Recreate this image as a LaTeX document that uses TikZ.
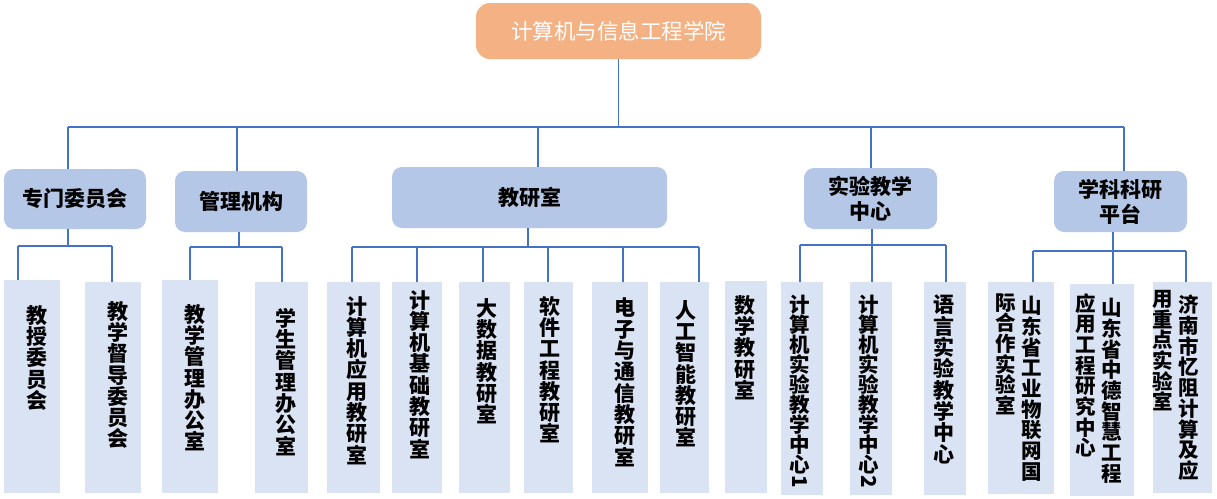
\documentclass[tikz,border=0pt]{standalone}
\usepackage{fontspec}
\usepackage{graphicx}
\newfontfamily\cjk{Noto Sans CJK SC}
\definecolor{orgfill}{HTML}{F4B183}
\definecolor{midfill}{HTML}{B4C7E7}
\definecolor{leaffill}{HTML}{DAE3F3}
\definecolor{linec}{HTML}{4472C4}
\newcommand\mkbox[7][]{\node[#1, minimum width={(#5-#3)*1pt}, minimum height={(#6-#4)*1pt}] (#2) at ({(#3+#5)/2},{(#4+#6)/2}) {#7};}
\newcommand\rotdigit[1]{\raisebox{0.45em}{\rotatebox[origin=c]{-90}{#1}}}
\tikzset{
  rootbox/.style={fill=orgfill, rounded corners=14pt, inner sep=0pt, outer sep=0pt, text=white, font=\cjk\fontsize{21.5}{24}\selectfont},
  midbox/.style={fill=midfill, rounded corners=10pt, inner sep=0pt, outer sep=0pt, align=center, font=\cjk\bfseries\fontsize{21}{25}\selectfont},
  leafbox/.style={fill=leaffill, inner sep=0pt, outer sep=0pt},
  vt/.style={font=\cjk\bfseries\fontsize{21}{21.3}\selectfont, align=center, inner sep=0pt, anchor=north},
  vtn/.style={vt, font=\cjk\bfseries\fontsize{20.5}{20.7}\selectfont},
  vtc/.style={vt, font=\cjk\bfseries\fontsize{20.5}{20}\selectfont},
  conn/.style={draw=linec, line width=1.3pt}
}
\begin{document}
\begin{tikzpicture}[x=1pt,y=-1pt]
\useasboundingbox (0,0) rectangle (1217,498);
% root and second level
\mkbox[rootbox]{root}{476}{3}{761}{59}{计算机与信息工程学院}
\mkbox[midbox]{b1}{4}{169}{146}{229}{专门委员会}
\mkbox[midbox]{b2}{175}{171}{307}{232}{管理机构}
\mkbox[midbox]{b3}{392}{167}{667}{228}{教研室}
\mkbox[midbox]{b4}{804}{168}{937}{229}{实验教学\\中心}
\mkbox[midbox]{b5}{1054}{171}{1187}{232}{学科科研\\平台}
% leaves
\mkbox[leafbox]{k1}{4}{280}{60}{493}{}
\mkbox[leafbox]{k2}{85}{282}{141}{493}{}
\mkbox[leafbox]{k3}{162}{280}{218}{493}{}
\mkbox[leafbox]{k4}{255}{282}{308}{493}{}
\mkbox[leafbox]{k5}{327}{282}{380}{493}{}
\mkbox[leafbox]{k6}{392}{282}{442}{493}{}
\mkbox[leafbox]{k7}{459}{282}{510}{493}{}
\mkbox[leafbox]{k8}{524}{282}{573}{493}{}
\mkbox[leafbox]{k9}{592}{282}{648}{493}{}
\mkbox[leafbox]{k10}{660}{282}{709}{493}{}
\mkbox[leafbox]{k11}{725}{281}{767}{493}{}
\mkbox[leafbox]{k12}{781}{282}{823}{495}{}
\mkbox[leafbox]{k13}{850}{282}{892}{495}{}
\mkbox[leafbox]{k14}{924}{282}{966}{495}{}
\mkbox[leafbox]{k15}{988}{282}{1054}{494}{}
\mkbox[leafbox]{k16}{1070}{284}{1134}{496}{}
\mkbox[leafbox]{k17}{1153}{282}{1212}{493}{}
% leaf texts
\node[vt] (t1) at (37,305) {教\\授\\委\\员\\会};
\node[vt] (t2) at (118,301) {教\\学\\督\\导\\委\\员\\会};
\node[vt] (t3) at (195,304) {教\\学\\管\\理\\办\\公\\室};
\node[vt] (t4) at (286,308) {学\\生\\管\\理\\办\\公\\室};
\node[vt] (t5) at (357,296) {计\\算\\机\\应\\用\\教\\研\\室};
\node[vt] (t6) at (420,290) {计\\算\\机\\基\\础\\教\\研\\室};
\node[vt] (t7) at (487,298) {大\\数\\据\\教\\研\\室};
\node[vt] (t8) at (550,296) {软\\件\\工\\程\\教\\研\\室};
\node[vt] (t9) at (625,298) {电\\子\\与\\通\\信\\教\\研\\室};
\node[vt] (t10) at (686,300) {人\\工\\智\\能\\教\\研\\室};
\node[vt] (t11) at (745,295) {数\\学\\教\\研\\室};
\node[vtc] (t12) at (800,295) {计\\算\\机\\实\\验\\教\\学\\中\\心\\\rotdigit{1}};
\node[vtc] (t13) at (869,295) {计\\算\\机\\实\\验\\教\\学\\中\\心\\\rotdigit{2}};
\node[vt] (t14) at (944,295) {语\\言\\实\\验\\教\\学\\中\\心};
\node[vtn] (t15a) at (1032,296) {山\\东\\省\\工\\业\\物\\联\\网\\国};
\node[vtn] (t15b) at (1006,293) {际\\合\\作\\实\\验\\室};
\node[vtn] (t16a) at (1112,298) {山\\东\\省\\中\\德\\智\\慧\\工\\程};
\node[vtn] (t16b) at (1086,293) {应\\用\\工\\程\\研\\究\\中\\心};
\node[vtn] (t17a) at (1189,295) {济\\南\\市\\忆\\阻\\计\\算\\及\\应};
\node[vtn] (t17b) at (1163,290) {用\\重\\点\\实\\验\\室};
% top connectors
\coordinate (busL) at (68,127);
\coordinate (busR) at (1124,127);
\draw[conn] (root.south) -- (root.south |- busL);
\draw[conn] (busL) -- (busR);
\draw[conn] (busL) -- (b1.north -| busL);
\draw[conn] (busL -| 237,0) -- (b2.north -| 237,0);
\draw[conn] (busL -| 538,0) -- (b3.north -| 538,0);
\draw[conn] (busL -| 871,0) -- (b4.north -| 871,0);
\draw[conn] (busR) -- (b5.north -| busR);
% group 1
\coordinate (g1) at (0,246);
\draw[conn] (b1.south -| 68,0) -- (g1 -| 68,0);
\draw[conn] (g1 -| 18,0) -- (g1 -| 112,0);
\draw[conn] (g1 -| 18,0) -- (k1.north -| 18,0);
\draw[conn] (g1 -| 112,0) -- (k2.north -| 112,0);
% group 2
\coordinate (g2) at (0,247);
\draw[conn] (b2.south -| 239,0) -- (g2 -| 239,0);
\draw[conn] (g2 -| 190,0) -- (g2 -| 282,0);
\draw[conn] (g2 -| 190,0) -- (k3.north -| 190,0);
\draw[conn] (g2 -| 282,0) -- (k4.north -| 282,0);
% group 3
\coordinate (g3) at (0,247);
\draw[conn] (b3.south -| 528,0) -- (g3 -| 528,0);
\draw[conn] (g3 -| 352,0) -- (g3 -| 699,0);
\draw[conn] (g3 -| 352,0) -- (k5.north -| 352,0);
\draw[conn] (g3 -| 417,0) -- (k6.north -| 417,0);
\draw[conn] (g3 -| 483,0) -- (k7.north -| 483,0);
\draw[conn] (g3 -| 548,0) -- (k8.north -| 548,0);
\draw[conn] (g3 -| 623,0) -- (k9.north -| 623,0);
\draw[conn] (g3 -| 699,0) -- (k10.north -| 699,0);
% group 4
\coordinate (g4) at (0,245);
\draw[conn] (g4 -| 800,0) -- (g4 -| 946,0);
\draw[conn] (b4.south -| 872,0) -- (k13.north -| 872,0);
\draw[conn] (g4 -| 800,0) -- (k12.north -| 800,0);
\draw[conn] (g4 -| 946,0) -- (k14.north -| 946,0);
% group 5
\coordinate (g5) at (0,251);
\draw[conn] (g5 -| 1033,0) -- (g5 -| 1186,0);
\draw[conn] (b5.south -| 1113,0) -- (k16.north -| 1113,0);
\draw[conn] (g5 -| 1033,0) -- (k15.north -| 1033,0);
\draw[conn] (g5 -| 1186,0) -- (k17.north -| 1186,0);
\end{tikzpicture}
\end{document}
